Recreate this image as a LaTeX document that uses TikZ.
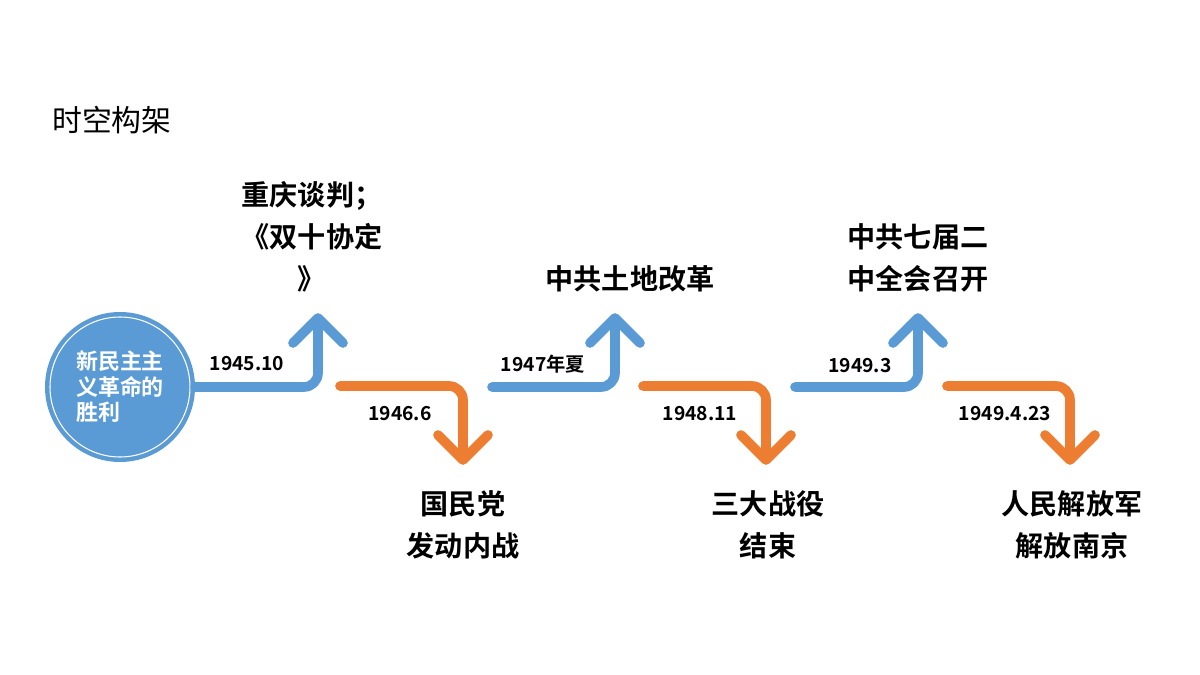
\documentclass[tikz,border=0pt]{standalone}
\usepackage{fontspec}
\setmainfont{Noto Sans CJK SC}[BoldFont={Noto Sans CJK SC Bold}]
\usetikzlibrary{positioning}
\definecolor{stepblue}{HTML}{5B9BD5}
\definecolor{steporange}{HTML}{ED7D31}
\tikzset{
    steparrow/.style={line width=5.5pt,line cap=round,line join=round,rounded corners=8pt},
    date/.style={font=\fontsize{11}{13}\selectfont\bfseries},
    event/.style={font=\fontsize{16}{24}\selectfont\bfseries,align=center}
}
\begin{document}
\begin{tikzpicture}[x=0.02cm,y=-0.02cm]
    \useasboundingbox (0,0) rectangle (1200,675);
    \node[anchor=west,font=\fontsize{17}{20}\selectfont] (title) at (46,120) {时空构架};

    \node[circle,fill=stepblue,minimum size=150*0.02cm] (start) at (120,387) {};
    \draw[white,line width=0.6pt] (start.center) circle (70*0.02cm);
    \node[text=white,align=left,font=\fontsize{12.5}{14.5}\selectfont\bfseries] (startlabel) at (120,387) {新民主主\\义革命的\\胜利};

    % up and down steps
    \foreach \x in {195,492,795}{
        \draw[steparrow,stepblue] (\x,387) -- (\x+123,387) -- (\x+123,320);
        \draw[steparrow,stepblue,rounded corners=0pt] (\x+98,343) -- (\x+123,318) -- (\x+148,343);
    }
    \foreach \x in {340,643,947}{
        \draw[steparrow,steporange] (\x,386) -- (\x+123,386) -- (\x+123,458);
        \draw[steparrow,steporange,rounded corners=0pt] (\x+98,435) -- (\x+123,460) -- (\x+148,435);
    }

    \node[date] (d1) at (247,364) {1945.10};
    \node[date] (d2) at (400,414) {1946.6};
    \node[date] (d3) at (543,364) {1947年夏};
    \node[date] (d4) at (700,414) {1948.11};
    \node[date] (d5) at (860,366) {1949.3};
    \node[date] (d6) at (1005,414) {1949.4.23};

    \node[event] (e1) at (312,237) {重庆谈判；\\《双十协定\\》};
    \node[event] (e2) at (630,279) {中共土地改革};
    \node[event] (e3) at (918,258) {中共七届二\\中全会召开};
    \node[event] (e4) at (463,525) {国民党\\发动内战};
    \node[event] (e5) at (768,525) {三大战役\\结束};
    \node[event] (e6) at (1072,525) {人民解放军\\解放南京};
\end{tikzpicture}
\end{document}
